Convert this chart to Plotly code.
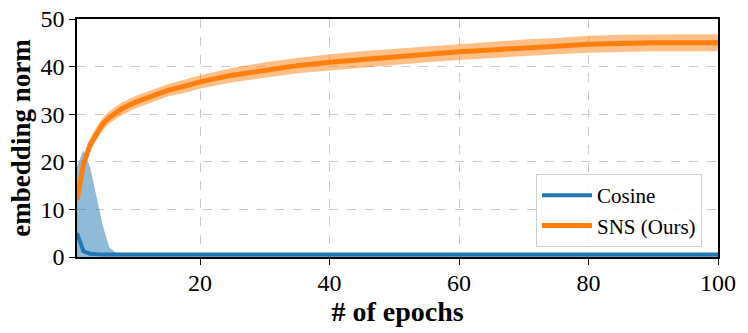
import plotly.graph_objects as go

epochs = [1, 2, 3, 4, 5, 6, 7, 8, 10, 12, 15, 18, 20, 25, 30, 35, 40, 45, 50,
          55, 60, 65, 70, 75, 80, 85, 90, 95, 100]

# SNS (Ours)
sns_mean = [12.0, 19.5, 23.5, 26.0, 28.0, 29.3, 30.3, 31.2, 32.5, 33.5, 35.0,
            36.0, 36.8, 38.2, 39.3, 40.2, 40.9, 41.5, 42.0, 42.6, 43.1, 43.5,
            44.0, 44.3, 44.7, 44.9, 45.0, 45.0, 45.0]
sns_lo = [10.8, 18.2, 22.2, 24.7, 26.7, 28.0, 29.0, 29.9, 31.2, 32.2, 33.7,
          34.6, 35.4, 36.7, 37.7, 38.6, 39.2, 39.8, 40.3, 40.9, 41.4, 41.8,
          42.3, 42.6, 42.9, 43.1, 43.2, 43.2, 43.2]
sns_hi = [13.2, 20.8, 24.8, 27.3, 29.3, 30.6, 31.6, 32.5, 33.8, 34.8, 36.3,
          37.4, 38.2, 39.7, 40.9, 41.8, 42.6, 43.2, 43.7, 44.3, 44.8, 45.2,
          45.7, 46.0, 46.5, 46.7, 46.8, 46.8, 46.8]

# Cosine
cos_mean = [5.0, 1.2, 0.7, 0.5, 0.5, 0.5, 0.5, 0.5, 0.5, 0.5, 0.5, 0.5, 0.5,
            0.5, 0.5, 0.5, 0.5, 0.5, 0.5, 0.5, 0.5, 0.5, 0.5, 0.5, 0.5, 0.5,
            0.5, 0.5, 0.5]
cos_lo = [0.0, 0.0, 0.0, 0.0, 0.0, 0.0, 0.0, 0.0, 0.0, 0.0, 0.0, 0.0, 0.0,
          0.0, 0.0, 0.0, 0.0, 0.0, 0.0, 0.0, 0.0, 0.0, 0.0, 0.0, 0.0, 0.0,
          0.0, 0.0, 0.0]
cos_hi = [19.0, 22.5, 19.0, 13.0, 6.5, 2.0, 0.9, 0.7, 0.7, 0.7, 0.7, 0.7, 0.7,
          0.7, 0.7, 0.7, 0.7, 0.7, 0.7, 0.7, 0.7, 0.7, 0.7, 0.7, 0.7, 0.7,
          0.7, 0.7, 0.7]

x_ticks = [20, 40, 60, 80, 100]
y_ticks = [0, 10, 20, 30, 40, 50]

blue = '#1f77b4'
orange = '#ff7f0e'
serif = 'Liberation Serif'

fig = go.Figure()

# shaded bands
fig.add_trace(go.Scatter(x=epochs, y=cos_lo, mode='lines', line=dict(width=0),
                         showlegend=False, hoverinfo='skip'))
fig.add_trace(go.Scatter(x=epochs, y=cos_hi, mode='lines', line=dict(width=0),
                         fill='tonexty', fillcolor='rgba(31,119,180,0.5)',
                         showlegend=False, hoverinfo='skip'))
fig.add_trace(go.Scatter(x=epochs, y=sns_lo, mode='lines', line=dict(width=0),
                         showlegend=False, hoverinfo='skip'))
fig.add_trace(go.Scatter(x=epochs, y=sns_hi, mode='lines', line=dict(width=0),
                         fill='tonexty', fillcolor='rgba(255,127,14,0.5)',
                         showlegend=False, hoverinfo='skip'))

# mean lines
fig.add_trace(go.Scatter(x=epochs, y=cos_mean, mode='lines', name='Cosine',
                         line=dict(color=blue, width=4)))
fig.add_trace(go.Scatter(x=epochs, y=sns_mean, mode='lines', name='SNS (Ours)',
                         line=dict(color=orange, width=5)))

axis_common = dict(
    showline=True, linecolor='black', linewidth=1.5, mirror=True,
    ticks='outside', ticklen=6, tickcolor='black', tickwidth=1.2,
    showgrid=True, gridcolor='#c8c8c8', griddash='dash', gridwidth=1,
    zeroline=False, automargin=False,
    tickfont=dict(family=serif, size=24, color='black'),
)

fig.update_xaxes(range=[1, 100], tickvals=x_ticks, ticklabelstandoff=-3,
                 title=dict(text='<b># of epochs</b>', standoff=0,
                            font=dict(family=serif, size=28, color='black')),
                 **axis_common)
fig.update_yaxes(range=[0, 50], tickvals=y_ticks,
                 title=dict(text='<b>embedding norm</b>', standoff=2,
                            font=dict(family=serif, size=27, color='black')),
                 **axis_common)

fig.update_layout(
    width=748, height=333,
    margin=dict(l=77, r=30, t=19, b=76),
    plot_bgcolor='white', paper_bgcolor='white',
    font=dict(family=serif, color='black'),
    legend=dict(x=0.975, y=0.042, xanchor='right', yanchor='bottom',
                bgcolor='rgba(255,255,255,0.85)', bordercolor='#d0d0d0',
                borderwidth=1, font=dict(family=serif, size=21, color='black'),
                traceorder='normal', itemwidth=50),
)

# drop the default page margin so the figure sits at the window's corner
fig.write_html("out.html", config={'displayModeBar': False},
               post_script="document.body.style.margin='0';")
